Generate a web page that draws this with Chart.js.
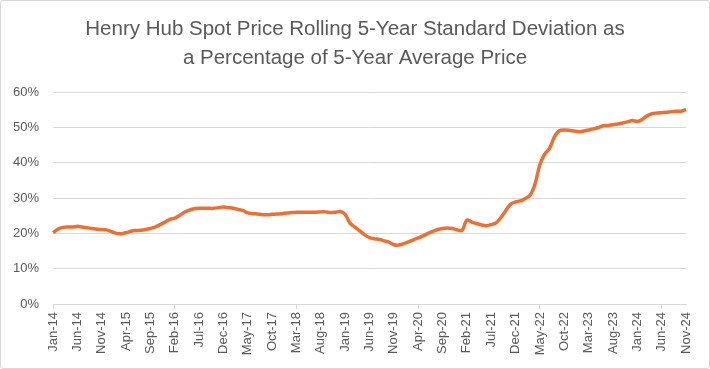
<!DOCTYPE html>
<html>
<head>
<meta charset="utf-8">
<script src="https://cdn.jsdelivr.net/npm/chart.js@4.4.1/dist/chart.umd.min.js"></script>
<style>
  html, body { margin: 0; padding: 0; background: #fff; }
  #wrap { position: relative; width: 708px; height: 367px; border: 1px solid #d9d9d9; border-radius: 3px; }
  canvas { display: block; }
</style>
</head>
<body>
<div id="wrap"><canvas id="chart" width="708" height="367"></canvas></div>
<script>
const titleLines = ['Henry Hub Spot Price Rolling 5-Year Standard Deviation as', 'a Percentage of 5-Year Average Price'];

const months = [
  'Jan-14','Feb-14','Mar-14','Apr-14','May-14','Jun-14','Jul-14','Aug-14','Sep-14','Oct-14','Nov-14','Dec-14',
  'Jan-15','Feb-15','Mar-15','Apr-15','May-15','Jun-15','Jul-15','Aug-15','Sep-15','Oct-15','Nov-15','Dec-15',
  'Jan-16','Feb-16','Mar-16','Apr-16','May-16','Jun-16','Jul-16','Aug-16','Sep-16','Oct-16','Nov-16','Dec-16',
  'Jan-17','Feb-17','Mar-17','Apr-17','May-17','Jun-17','Jul-17','Aug-17','Sep-17','Oct-17','Nov-17','Dec-17',
  'Jan-18','Feb-18','Mar-18','Apr-18','May-18','Jun-18','Jul-18','Aug-18','Sep-18','Oct-18','Nov-18','Dec-18',
  'Jan-19','Feb-19','Mar-19','Apr-19','May-19','Jun-19','Jul-19','Aug-19','Sep-19','Oct-19','Nov-19','Dec-19',
  'Jan-20','Feb-20','Mar-20','Apr-20','May-20','Jun-20','Jul-20','Aug-20','Sep-20','Oct-20','Nov-20','Dec-20',
  'Jan-21','Feb-21','Mar-21','Apr-21','May-21','Jun-21','Jul-21','Aug-21','Sep-21','Oct-21','Nov-21','Dec-21',
  'Jan-22','Feb-22','Mar-22','Apr-22','May-22','Jun-22','Jul-22','Aug-22','Sep-22','Oct-22','Nov-22','Dec-22',
  'Jan-23','Feb-23','Mar-23','Apr-23','May-23','Jun-23','Jul-23','Aug-23','Sep-23','Oct-23','Nov-23','Dec-23',
  'Jan-24','Feb-24','Mar-24','Apr-24','May-24','Jun-24','Jul-24','Aug-24','Sep-24','Oct-24','Nov-24'
];

// rolling std dev as % of average
const stdevPct = [
  20.2, 21.2, 21.7, 21.8, 21.8, 22.0, 21.8, 21.6, 21.4, 21.2, 21.1, 21.0,
  20.5, 20.0, 19.9, 20.2, 20.6, 20.8, 20.9, 21.1, 21.4, 21.8, 22.5, 23.2,
  24.0, 24.3, 25.1, 26.0, 26.6, 27.0, 27.1, 27.1, 27.1, 27.1, 27.3, 27.5,
  27.3, 27.1, 26.8, 26.5, 25.8, 25.6, 25.5, 25.3, 25.3, 25.4, 25.5, 25.6,
  25.8, 25.9, 26.0, 26.0, 26.0, 26.0, 26.0, 26.1, 26.1, 25.9, 26.0, 26.2,
  25.4, 22.9, 21.8, 20.7, 19.6, 18.8, 18.5, 18.3, 17.9, 17.5, 16.8, 16.7,
  17.1, 17.6, 18.2, 18.7, 19.3, 20.0, 20.6, 21.1, 21.4, 21.5, 21.4, 21.0,
  20.8, 23.8, 23.2, 22.8, 22.4, 22.2, 22.5, 23.0, 24.5, 26.5, 28.3, 28.9,
  29.2, 29.9, 30.8, 34.0, 39.5, 42.5, 44.1, 47.4, 49.1, 49.3, 49.2, 49.0,
  48.8, 49.0, 49.3, 49.6, 50.0, 50.5, 50.6, 50.8, 51.0, 51.3, 51.6, 52.0,
  51.7, 52.3, 53.3, 53.9, 54.1, 54.2, 54.3, 54.5, 54.6, 54.6, 55.1
];

const yTicks = [0, 10, 20, 30, 40, 50, 60];
const labelStep = 5;

const gray = '#595959';
const gridGray = '#d9d9d9';

new Chart(document.getElementById('chart'), {
  type: 'line',
  data: {
    labels: months,
    datasets: [{
      data: stdevPct,
      borderColor: '#ED7030',
      borderWidth: 3.5,
      pointRadius: 0,
      tension: 0.3,
      fill: false
    }]
  },
  options: {
    responsive: false,
    animation: false,
    layout: { padding: 0 },
    plugins: {
      legend: { display: false },
      tooltip: { enabled: false },
      title: {
        display: true,
        text: titleLines,
        color: gray,
        font: { family: '"Liberation Sans", Arial, sans-serif', size: 20.5, weight: 'normal', lineHeight: 1.42 },
        padding: { top: 14, bottom: 19 }
      }
    },
    scales: {
      x: {
        offset: false,
        grid: {
          drawOnChartArea: false,
          drawTicks: true,
          tickLength: 5,
          color: ctx => (ctx.index % labelStep === 0 ? gridGray : 'rgba(0,0,0,0)')
        },
        border: { display: true, color: gridGray, width: 1 },
        ticks: {
          autoSkip: false,
          maxRotation: 90,
          minRotation: 90,
          color: gray,
          padding: 3,
          font: { family: '"Liberation Sans", Arial, sans-serif', size: 13 },
          callback: function (val, i) { return i % labelStep === 0 ? months[i] : null; }
        },
        afterFit: s => { s.height = 64; }
      },
      y: {
        min: yTicks[0],
        max: yTicks[yTicks.length - 1],
        afterBuildTicks: s => { s.ticks = yTicks.map(v => ({ value: v })); },
        grid: { color: gridGray, lineWidth: 1, drawTicks: false },
        border: { display: false },
        ticks: {
          color: gray,
          padding: 14,
          font: { family: '"Liberation Sans", Arial, sans-serif', size: 13 },
          callback: v => v + '%'
        },
        afterFit: s => { s.width = 52; }
      },
      // empty right-hand axis, only keeps the blank margin so the title stays centred
      pad: {
        position: 'right',
        grid: { display: false },
        border: { display: false },
        ticks: { display: false },
        afterFit: s => { s.width = 23; }
      }
    }
  }
});
</script>
</body>
</html>
